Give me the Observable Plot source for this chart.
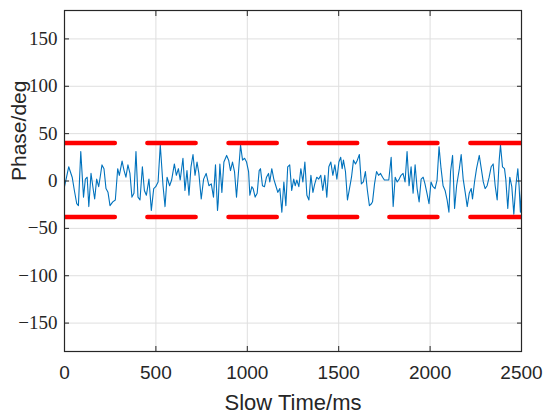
<!DOCTYPE html>
<html><head><meta charset="utf-8">
<script src="https://cdn.jsdelivr.net/npm/d3@7"></script>
<script src="https://cdn.jsdelivr.net/npm/@observablehq/plot@0.6"></script>
<style>body{margin:0;background:#fff}</style>
</head><body><div id="chart"></div>
<script>
// Slow time (ms) of each vertex of the phase trace
const times = [0,12,23,42,54,67,76,89,104,114,124,133,145,158,165,176,187,195,205,216,227,238,249,264,278,291,300,315,326,336,347,358,369,380,391,402,413,
  426,437,448,462,475,488,499,512,524,539,550,561,575,586,601,612,623,633,648,659,670,681,692,703,714,725,735,748,761,775,790,803,815,826,837,
  841,850,861,872,887,898,908,919,930,941,952,963,974,985,996,1007,1014,1025,1032,1043,1054,1065,1072,1083,1094,1105,1116,1123,1134,1145,1156,1167,1178,1189,1200,1211,1221,1232,1243,1254,
  1262,1271,1282,1293,1304,1315,1326,1337,1348,1359,1369,1380,1391,1402,1413,1424,1435,1446,1457,1468,1479,1490,1501,1511,1519,1526,1537,1548,1559,1570,1581,1592,1602,1613,1624,1635,1646,1657,1668,1679,
  1685,1696,1707,1718,1729,1740,1750,1761,1774,1787,1798,1809,1820,1831,1841,1852,1863,1874,1885,1896,1907,1918,1929,1940,1951,1962,1972,1983,1994,2005,2016,2027,2038,2049,2060,2071,2082,2093,
  2103,2112,2123,2134,2145,2160,2170,2181,2192,2203,2214,2225,2232,2243,2254,2269,2280,2291,2301,2312,2323,2334,2345,2356,2367,2378,2385,2396,2407,2414,2425,2436,2447,2458,2469,2480,2487,2494,2500];
// Phase (deg) of each vertex
const phase = [-6,5,15,4,-10,-24,-26,31,-17,2,4,-27,8,-10,-19,2,-6,4,17,13,-8,-12,-26,-22,-20,13,6,21,11,4,17,8,-17,-13,31,-17,-20,
  15,-10,-15,2,-31,-8,-6,-1,38,-5,-27,4,-5,1,18,6,13,1,24,-10,11,-15,15,28,6,20,8,-19,2,8,-5,-3,-17,17,-31,
  -22,18,-12,20,27,22,11,20,10,-17,10,38,22,24,20,10,-15,-6,-8,-17,-13,11,13,-5,-6,4,8,-1,13,2,-5,-12,-8,-33,-1,-26,15,17,-10,2,
  -5,1,-6,13,-1,20,-15,-20,6,-12,-3,4,2,6,-10,6,-17,15,20,6,17,2,20,25,13,22,10,-20,-8,4,22,18,22,28,-3,-1,10,-10,-26,-24,
  -22,-3,10,6,8,4,1,1,1,25,-27,4,-1,2,6,8,-1,31,-5,15,-13,17,-8,-22,2,4,-3,-13,-24,-1,-6,-8,1,36,13,-5,-10,-20,
  -33,10,27,-29,-5,13,28,2,-12,-27,-13,-8,-19,-1,13,27,13,-1,-8,-5,4,15,18,-5,-20,22,38,15,13,2,-29,4,-6,-35,-5,13,-6,-33,-10];

// Threshold levels (deg) and the spans (ms) of the red dashes
const thresholdUpper = 40;
const thresholdLower = -38;
const dashStart = [0, 456, 900, 1340, 1780, 2223];
const dashEnd = [278, 720, 1164, 1604, 2043, 2500];

const xTicks = [0, 500, 1000, 1500, 2000, 2500];
const yTicks = [-150, -100, -50, 0, 50, 100, 150];

const signal = times.map((t, i) => ({t, v: phase[i]}));
const dashes = [];
for (const level of [thresholdUpper, thresholdLower]) {
  dashStart.forEach((s, i) => dashes.push({x1: s, x2: dashEnd[i], y: level}));
}

const ink = "#262626";
const fmt = d3.format("d");
const plot = Plot.plot({
  width: 550,
  height: 420,
  marginTop: 10,
  marginBottom: 69,
  marginLeft: 64,
  marginRight: 29,
  x: {domain: [0, 2500]},
  y: {domain: [-180, 180]},
  style: {background: "#fff", color: ink},
  marks: [
    Plot.gridX(xTicks, {stroke: "#dfdfdf", strokeOpacity: 1}),
    Plot.gridY(yTicks, {stroke: "#dfdfdf", strokeOpacity: 1}),
    Plot.line(signal, {x: "t", y: "v", stroke: "#0072BD", strokeWidth: 1.1, clip: true}),
    Plot.ruleY(dashes, {x1: "x1", x2: "x2", y: "y", stroke: "#ff0000", strokeWidth: 4.5, strokeLinecap: "round", clip: true}),
    Plot.frame({stroke: ink, strokeWidth: 1.2}),
    // tick labels
    Plot.axisX(xTicks, {anchor: "bottom", tickSize: 0, tickPadding: 14, tickFormat: fmt, label: null, fontSize: 19, fontFamily: "Liberation Sans", fill: ink}),
    Plot.axisY(yTicks, {anchor: "left", tickSize: 0, tickPadding: 7, tickFormat: fmt, label: null, fontSize: 19, fontFamily: "Liberation Serif", fill: ink}),
    // inward ticks on all four sides
    Plot.axisX(xTicks, {anchor: "bottom", tickSize: -5, fill: "none", label: null}),
    Plot.axisX(xTicks, {anchor: "top", tickSize: -5, fill: "none", label: null}),
    Plot.axisY(yTicks, {anchor: "left", tickSize: -5, fill: "none", label: null}),
    Plot.axisY(yTicks, {anchor: "right", tickSize: -5, fill: "none", label: null}),
    // axis titles
    Plot.text(["Slow Time/ms"], {text: d => d, frameAnchor: "bottom", dy: 58, lineAnchor: "bottom", fontSize: 22, fontFamily: "Liberation Sans", fill: ink}),
    Plot.text(["Phase/deg"], {text: d => d, frameAnchor: "left", dx: -39, rotate: -90, lineAnchor: "bottom", fontSize: 21, fontFamily: "Liberation Sans", fill: ink})
  ]
});
document.getElementById("chart").appendChild(plot);
</script>
</body></html>
